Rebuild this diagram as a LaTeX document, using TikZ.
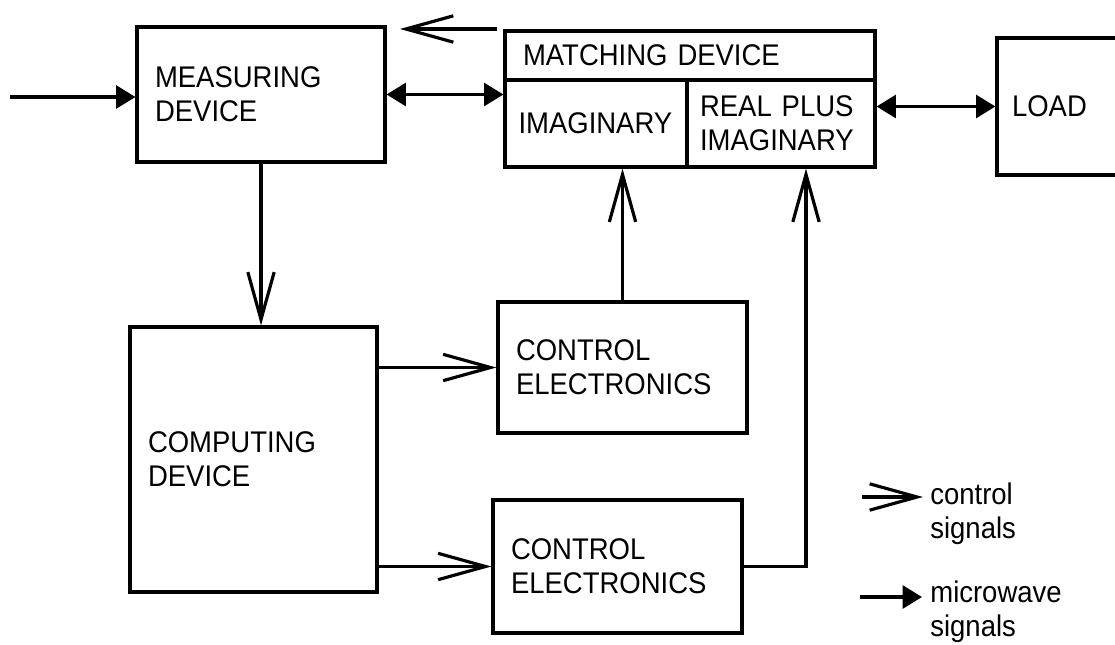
\documentclass[tikz,border=0pt]{standalone}
\usepackage{fontspec}
\setmainfont{Liberation Sans}[FakeStretch=0.92]
\usetikzlibrary{arrows.meta, positioning, calc}

\newcommand{\blkfont}{\fontsize{17}{19.5}\selectfont}

\tikzset{
    blk/.style={draw, line width=1.8pt, align=left, inner xsep=0.36cm, inner ysep=0pt, font=\blkfont},
    lbl/.style={align=left, inner sep=0pt, font=\blkfont},
    ctl/.style={line width=1.8pt, -{Straight Barb[length=27pt,width=15pt]}},
    mw/.style={line width=1.8pt, -{Triangle[length=11pt,width=13pt]}},
    mwboth/.style={line width=1.8pt, {Triangle[length=11pt,width=13pt]}-{Triangle[length=11pt,width=13pt]}}
}

\begin{document}
\begin{tikzpicture}[x=0.02cm, y=-0.02cm]
\useasboundingbox (0,0) rectangle (1115,645);
\clip (0,0) rectangle (1115,645);

% Blocks
\node[blk, minimum height=2.70cm, text width=4.24cm] (meas) at (261,94.5) {MEASURING\\DEVICE};
\node[blk, minimum height=0.98cm, text width=6.68cm] (match) at (690,55.5) {MATCHING DEVICE};
\node[blk, minimum height=1.74cm, inner xsep=0.27cm, text width=3.10cm] (imag) at (596,123.5) {IMAGINARY};
\node[blk, minimum height=1.74cm, inner xsep=0.26cm, text width=3.24cm] (reim) at (781,123.5) {REAL PLUS\\IMAGINARY};
\node[blk, minimum height=2.74cm, inner xsep=0.30cm, text width=2.20cm] (load) at (1067,106.5) {LOAD};
\node[blk, minimum height=5.30cm, text width=4.22cm] (comp) at (253.5,459.5) {COMPUTING\\DEVICE};
\node[blk, minimum height=2.62cm, text width=4.26cm] (ce1) at (622.5,367.5) {CONTROL\\ELECTRONICS};
\node[blk, minimum height=2.66cm, text width=4.26cm] (ce2) at (617.5,566.5) {CONTROL\\ELECTRONICS};

% Microwave path
\coordinate (src) at (10,97);
\draw[mw] (src) -- (src -| meas.west);
\draw[mwboth] (meas.east) -- (meas.east -| imag.west);
\draw[mwboth] (reim.east |- load.west) -- (load.west);

% Control path
\coordinate (fbA) at (497,29);
\coordinate (fbB) at (400,29);
\draw[ctl] (fbA) -- (fbB);
\draw[ctl] (meas.south) -- (meas.south |- comp.north);
\foreach \c in {ce1,ce2}
    \draw[ctl] (comp.east |- \c.west) -- (\c.west);
\draw[ctl] (ce1.north) -- (ce1.north |- imag.south);
\draw[ctl] (ce2.east) -| ([xshift=0.5cm]reim.south);

% Legend
\coordinate (lgA) at (862,497);
\coordinate (lgB) at (923,497);
\draw[ctl] (lgA) -- (lgB);
\node[lbl, anchor=west] (lgctl) at (930,514) {control\\signals};
\coordinate (lgC) at (860,597);
\coordinate (lgD) at (922,597);
\draw[mw] (lgC) -- (lgD);
\node[lbl, anchor=west] (lgmw) at (930,612) {microwave\\signals};
\end{tikzpicture}
\end{document}
